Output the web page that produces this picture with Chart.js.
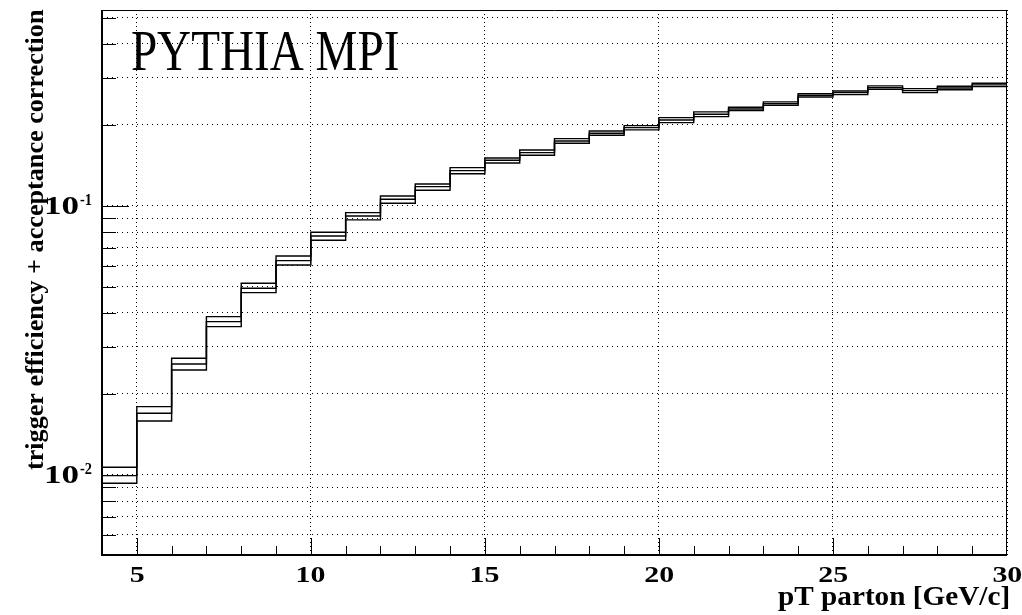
<!DOCTYPE html>
<html><head><meta charset="utf-8">
<script src="https://cdn.jsdelivr.net/npm/chart.js@4"></script>
<style>html,body{margin:0;padding:0;background:#fff}#wrap{width:1022px;height:615px}</style>
</head><body><div id="wrap"><canvas id="c" width="1022" height="615"></canvas></div>
<script>
// ---- data ----
const binLowEdges = [4,5,6,7,8,9,10,11,12,13,14,15,16,17,18,19,20,21,22,23,24,25,26,27,28,29];
const binHighEdge = 30;
const central = [0.00994,0.01696,0.02586,0.03714,0.04943,0.06260,0.07736,0.0918,0.1059,0.1180,0.1353,0.1479,0.1578,0.1744,0.1863,0.1955,0.2087,0.2192,0.2294,0.2401,0.2579,0.2637,0.2753,0.2683,0.2745,0.2818];
const upper   = [0.01068,0.01795,0.02716,0.03878,0.05160,0.06518,0.07986,0.09443,0.1089,0.1207,0.1388,0.1508,0.1615,0.1779,0.1900,0.1989,0.2129,0.2236,0.2328,0.2436,0.2615,0.2676,0.2794,0.2730,0.2786,0.2859];
const lower   = [0.00931,0.01587,0.02457,0.03558,0.04762,0.06034,0.07455,0.08872,0.1023,0.1144,0.1318,0.1445,0.1543,0.1710,0.1831,0.1918,0.2040,0.2148,0.2261,0.2368,0.2542,0.2593,0.2715,0.2637,0.2705,0.2777];
const xLabelTicks = [5,10,15,20,25,30];
const xMinorTicks = [5,6,7,8,9,10,11,12,13,14,15,16,17,18,19,20,21,22,23,24,25,26,27,28,29];
const yLabelTicks = [0.01,0.1];
const yLabelExps = ['-2','-1'];
const yGridValues = [0.006,0.007,0.008,0.009,0.01,0.02,0.03,0.04,0.05,0.06,0.07,0.08,0.09,0.1,0.2,0.3,0.4,0.5];
const xTitle = 'pT parton [GeV/c]';
const yTitle = 'trigger efficiency + acceptance correction';
const plotLabel = 'PYTHIA MPI';

const SERIF = '"Liberation Serif", "Times New Roman", Times, serif';

function toSteps(vals){
  const pts = vals.map((v,i)=>({x: binLowEdges[i], y: v}));
  pts.push({x: binHighEdge, y: vals[vals.length-1]});
  return pts;
}

function fitText(ctx, text, font, x0, x1, baseY){
  ctx.save();
  ctx.font = font; ctx.textAlign = 'left'; ctx.textBaseline = 'alphabetic';
  const m = ctx.measureText(text);
  const ink = m.actualBoundingBoxLeft + m.actualBoundingBoxRight;
  const sx = (x1 - x0) / ink;
  ctx.translate(x0, baseY); ctx.scale(sx, 1);
  ctx.fillText(text, m.actualBoundingBoxLeft, 0);
  ctx.restore();
}

const rootStyle = {
  id: 'rootStyle',
  afterDatasetsDraw(chart){
    const {ctx, chartArea: a, scales: {x, y}} = chart;
    const L = (x1,y1,x2,y2)=>{ctx.beginPath();ctx.moveTo(x1,y1);ctx.lineTo(x2,y2);ctx.stroke();};
    ctx.save();
    ctx.strokeStyle = '#000'; ctx.fillStyle = '#000';
    // frame
    ctx.lineWidth = 1;
    L(a.left, a.top+0.5, a.right, a.top+0.5);
    L(a.right-0.5, a.top, a.right-0.5, a.bottom);
    ctx.lineWidth = 2;
    L(a.left, a.top, a.left, a.bottom+1);
    L(a.left-1, a.bottom, a.right, a.bottom);
    // x ticks (inside)
    ctx.lineWidth = 1;
    xMinorTicks.forEach(v=>{
      const px = Math.round(x.getPixelForValue(v)) + 0.5;
      const len = (v % 5 === 0) ? 17 : 9;
      L(px, a.bottom, px, a.bottom - len);
    });
    // y ticks (inside)
    yGridValues.forEach(v=>{
      const py = Math.round(y.getPixelForValue(v)) + 0.5;
      const major = yLabelTicks.some(t=>Math.abs(t-v)<1e-9);
      L(a.left, py, a.left + (major ? 27 : 14), py);
    });
    // x tick labels
    const xf = 'bold 23px ' + SERIF;
    xLabelTicks.forEach(v=>{
      const px = x.getPixelForValue(v);
      const t = String(v);
      ctx.save(); ctx.font = xf;
      const m = ctx.measureText(t);
      const w = (m.actualBoundingBoxLeft + m.actualBoundingBoxRight) * 1.3;
      ctx.restore();
      fitText(ctx, t, xf, px - w/2, px + w/2, 581.5);
    });
    // y tick labels 10^{-n}
    yLabelTicks.forEach((v,i)=>{
      const py = y.getPixelForValue(v);
      fitText(ctx, '10', 'bold 25px ' + SERIF, 46.7, 78.3, py + 8);
      fitText(ctx, yLabelExps[i], 'bold 16px ' + SERIF, 80, 92, py - 1);
    });
    // axis titles
    fitText(ctx, xTitle, 'bold 27px ' + SERIF, 778, 1008, 605);
    ctx.save();
    ctx.font = 'bold 26px ' + SERIF;
    const m = ctx.measureText(yTitle);
    const ink = m.actualBoundingBoxLeft + m.actualBoundingBoxRight;
    const sx = (470 - 9) / ink;
    ctx.translate(42.5, 470); ctx.rotate(-Math.PI/2); ctx.scale(sx, 1);
    ctx.textAlign = 'left'; ctx.textBaseline = 'alphabetic';
    ctx.fillText(yTitle, m.actualBoundingBoxLeft, 0);
    ctx.restore();
    // plot label
    fitText(ctx, plotLabel, '58px ' + SERIF, 131.7, 398.3, 70);
    ctx.restore();
  }
};

const ds = (label, vals, w) => ({
  label, data: toSteps(vals), borderColor: '#000', borderWidth: w,
  stepped: 'before', pointRadius: 0, fill: false, tension: 0
});

new Chart(document.getElementById('c'), {
  type: 'line',
  data: { datasets: [ ds('lower', lower, 1.4), ds('upper', upper, 1.4), ds('central', central, 1.4) ] },
  options: {
    responsive: false, animation: false, devicePixelRatio: 1,
    layout: { padding: { top: 10, right: 15, left: 0, bottom: 0 } },
    plugins: { legend: { display: false }, tooltip: { enabled: false }, title: { display: false } },
    scales: {
      x: {
        type: 'linear', min: 4, max: 30,
        afterBuildTicks: s => { s.ticks = xLabelTicks.map(v => ({ value: v })); },
        afterFit: s => { s.height = 60; },
        ticks: { display: false },
        grid: { color: '#000', lineWidth: 1, drawTicks: false },
        border: { display: false, dash: [1, 3] }
      },
      y: {
        type: 'logarithmic', min: 0.00504, max: 0.535,
        afterBuildTicks: s => { s.ticks = yGridValues.map(v => ({ value: v })); },
        afterFit: s => { s.width = 102; },
        ticks: { display: false },
        grid: { color: '#000', lineWidth: 1, drawTicks: false },
        border: { display: false, dash: [1, 4] }
      }
    }
  },
  plugins: [rootStyle]
});
</script>
</body></html>
